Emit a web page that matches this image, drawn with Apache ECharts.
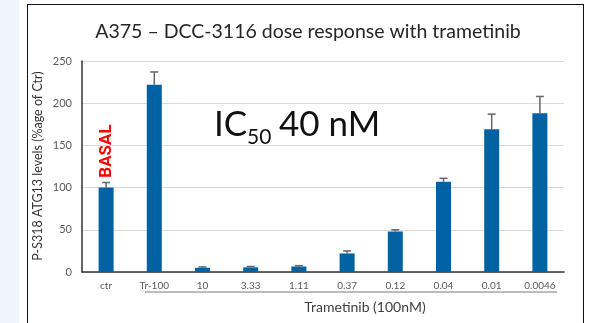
<!DOCTYPE html>
<html>
<head>
<meta charset="utf-8">
<script src="https://cdn.jsdelivr.net/npm/echarts@6/dist/echarts.min.js"></script>
<style>
html,body{margin:0;padding:0;background:#eef6fb;}
#wrap{position:relative;width:590px;height:323px;overflow:hidden;}
#white{position:absolute;left:19px;top:0;width:571px;height:323px;background:#fff;}
#box{position:absolute;left:27px;top:4px;width:557px;height:330px;border:1.5px solid #111;box-sizing:border-box;}
#chart{position:absolute;left:0;top:0;width:590px;height:323px;}
</style>
</head>
<body>
<div id="wrap">
<div id="white"></div>
<div id="box"></div>
<div id="chart"></div>
</div>
<script>
const categories = ['ctr','Tr-100','10','3.33','1.11','0.37','0.12','0.04','0.01','0.0046'];
const values = [100, 222, 5, 5.5, 6.5, 22, 48, 107, 169, 188];
const errors = [6, 15, 1, 1, 1, 3, 2, 4, 18, 20];
const yTicks = [0, 50, 100, 150, 200, 250];

const chart = echarts.init(document.getElementById('chart'), null, {renderer:'canvas'});
const ff = 'Lato, "Open Sans", sans-serif';
chart.setOption({
  backgroundColor: 'transparent',
  animation: false,
  grid: {left: 82, right: 26, top: 61, bottom: 51},
  xAxis: {
    type: 'category', data: categories,
    axisLine: {lineStyle: {color: '#333', width: 1.5}},
    axisTick: {show: false},
    axisLabel: {fontFamily: ff, fontSize: 10, color: '#595959', margin: 9}
  },
  yAxis: {
    type: 'value', min: yTicks[0], max: yTicks[yTicks.length-1], interval: 50,
    axisLine: {show: true, lineStyle: {color: '#333', width: 1.5}},
    axisTick: {show: false},
    axisLabel: {fontFamily: ff, fontSize: 11, color: '#595959', margin: 10},
    splitLine: {lineStyle: {color: '#d9d9d9', width: 1}}
  },
  series: [
    {
      type: 'bar', data: values, barWidth: 15,
      itemStyle: {color: '#0062a3'}
    },
    {
      type: 'custom',
      data: values.map((v, i) => [i, v, errors[i]]),
      z: 3,
      renderItem: function (params, api) {
        const i = api.value(0), v = api.value(1), e = api.value(2);
        const p0 = api.coord([i, v]);
        const p1 = api.coord([i, v + e]);
        const hw = 4;
        return {
          type: 'group',
          children: [
            {type: 'line', shape: {x1: p0[0], y1: p0[1], x2: p1[0], y2: p1[1]}, style: {stroke: '#666', lineWidth: 1.5}},
            {type: 'line', shape: {x1: p1[0]-hw, y1: p1[1], x2: p1[0]+hw, y2: p1[1]}, style: {stroke: '#666', lineWidth: 1.5}}
          ]
        };
      }
    }
  ],
  graphic: [
    {type: 'text', x: 308, y: 32, style: {text: 'A375 – DCC-3116 dose response with trametinib', fontFamily: ff, fontSize: 19.5, fill: '#262626', align: 'center', verticalAlign: 'middle'}},
    {type: 'text', x: 38, y: 166, rotation: Math.PI/2, style: {text: 'P-S318 ATG13 levels (%age of Ctr)', fontFamily: ff, fontSize: 12.5, fill: '#333', align: 'center', verticalAlign: 'middle'}},
    {type: 'line', shape: {x1: 145, y1: 292, x2: 557, y2: 292}, style: {stroke: '#a6a6a6', lineWidth: 1.5}},
    {type: 'text', x: 365, y: 307, style: {text: 'Trametinib (100nM)', fontFamily: ff, fontSize: 14, fill: '#404040', align: 'center', verticalAlign: 'middle'}},
    {type: 'text', x: 107, y: 151, rotation: Math.PI/2, style: {text: 'BASAL', fontFamily: 'Roboto, sans-serif', fontWeight: 'bold', fontSize: 17, fill: '#ff0000', align: 'center', verticalAlign: 'middle'}},
    {type: 'text', x: 214, y: 125, style: {text: 'IC', fontFamily: ff, fontSize: 35, fill: '#111', align: 'left', verticalAlign: 'middle'}},
    {type: 'text', x: 247, y: 137, style: {text: '50', fontFamily: ff, fontSize: 21, fill: '#111', align: 'left', verticalAlign: 'middle'}},
    {type: 'text', x: 279, y: 125, style: {text: '40 nM', fontFamily: ff, fontSize: 35, fill: '#111', align: 'left', verticalAlign: 'middle'}}
  ]
});
</script>
</body>
</html>
